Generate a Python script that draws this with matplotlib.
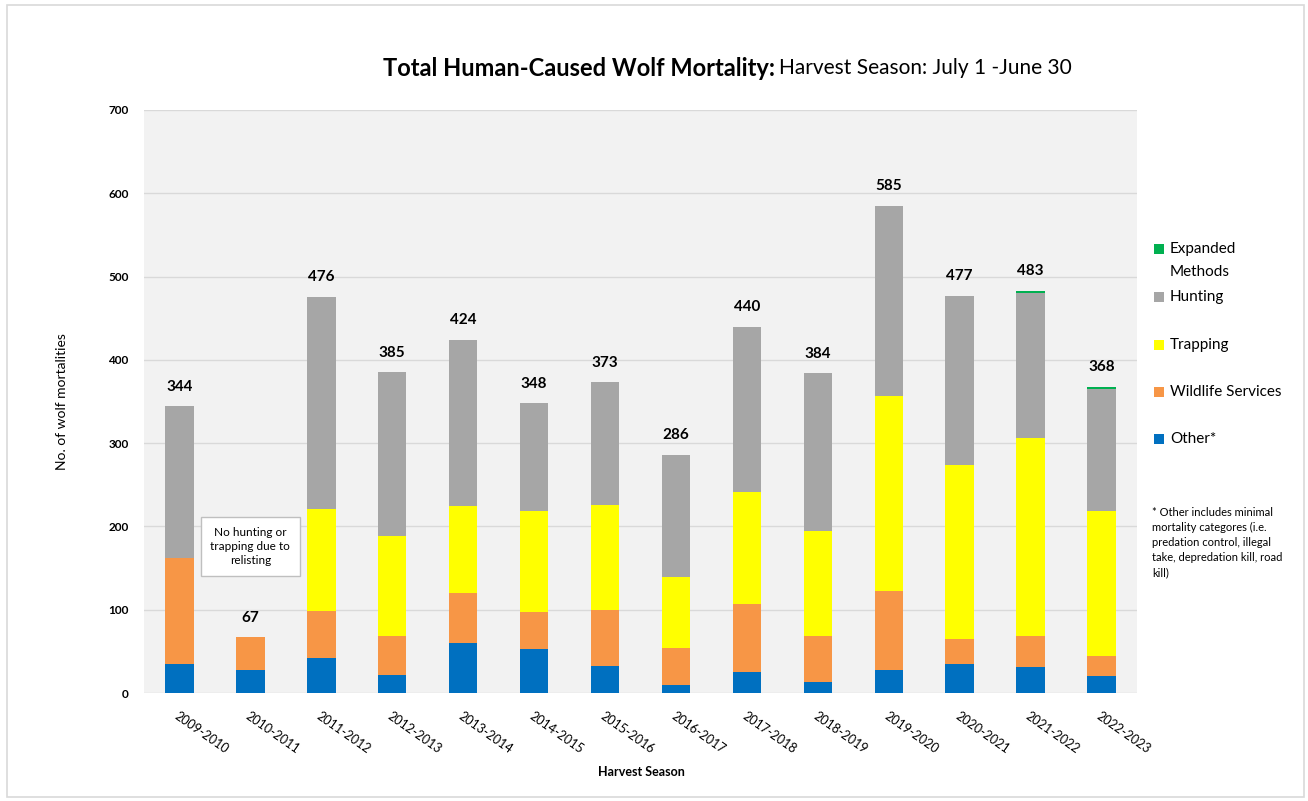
import matplotlib
matplotlib.use("Agg")
import matplotlib.pyplot as plt
from matplotlib.patches import Rectangle
import numpy as np

plt.rcParams['font.family'] = ['Lato', 'DejaVu Sans']

seasons = ["2009-2010", "2010-2011", "2011-2012", "2012-2013", "2013-2014",
           "2014-2015", "2015-2016", "2016-2017", "2017-2018", "2018-2019",
           "2019-2020", "2020-2021", "2021-2022", "2022-2023"]
other = [35, 28, 42, 22, 60, 53, 32, 10, 25, 13, 28, 35, 31, 20]
wildlife = [127, 39, 56, 46, 60, 44, 68, 44, 82, 56, 94, 30, 38, 25]
trapping = [0, 0, 123, 120, 104, 121, 126, 85, 134, 126, 235, 209, 237, 173]
hunting = [182, 0, 255, 197, 200, 130, 147, 147, 199, 189, 228, 203, 174, 147]
expanded = [0, 0, 0, 0, 0, 0, 0, 0, 0, 0, 0, 0, 3, 3]
yticks = [0, 100, 200, 300, 400, 500, 600, 700]

series = [("Other*", other, "#0070C0"),
          ("Wildlife Services", wildlife, "#F79646"),
          ("Trapping", trapping, "#FFFF00"),
          ("Hunting", hunting, "#A6A6A6"),
          ("Expanded\nMethods", expanded, "#00B050")]

W, H = 1308, 801
fig = plt.figure(figsize=(W / 100, H / 100), dpi=100)
fig.patch.set_facecolor("white")

def fx(px):
    return px / W

def fy(py):
    return 1 - py / H

ax = fig.add_axes([fx(144), fy(693), fx(1137) - fx(144), fy(110) - fy(693)])
ax.set_facecolor("#F2F2F2")
for s in ax.spines.values():
    s.set_visible(False)

x = np.arange(len(seasons))
bottom = np.zeros(len(seasons))
for name, vals, col in series:
    v = np.array(vals, dtype=float)
    ax.bar(x, v, bottom=bottom, width=0.4, color=col, zorder=3, linewidth=0)
    bottom += v
totals = bottom

for xi, t in zip(x, totals):
    ax.annotate(f"{int(t)}", (xi, t), xytext=(0, 14), textcoords="offset points",
                ha="center", va="center", fontsize=11, fontweight="bold", color="black")

ax.set_xlim(-0.5, len(seasons) - 0.5)
ax.set_ylim(0, 700)
ax.set_yticks(yticks)
ax.set_yticklabels([str(v) for v in yticks], fontsize=8.5, fontweight="bold")
ax.yaxis.grid(True, color="#D9D9D9", linewidth=1, zorder=0)
ax.set_axisbelow(True)
ax.tick_params(axis="both", length=0)
ax.tick_params(axis="y", pad=11)
ax.set_xticks(x)
ax.set_xticklabels(seasons, rotation=-35, ha="left", va="top", rotation_mode="anchor",
                   fontsize=9)
ax.tick_params(axis="x", pad=12)

fig.text(fx(62), 0.5 * (fy(110) + fy(693)), "No. of wolf mortalities", rotation=90,
         ha="center", va="center", fontsize=10)
fig.text(fx(641), fy(772), "Harvest Season", ha="center", va="center",
         fontsize=9, fontweight="bold")

# annotation box
ax.text(1.0, 176, "No hunting or\ntrapping due to\nrelisting", ha="center", va="center",
        fontsize=8.5, linespacing=1.35, zorder=5,
        bbox=dict(boxstyle="square,pad=0.8", facecolor="white", edgecolor="#BFBFBF", linewidth=1))

# title
t1 = fig.text(fx(383), fy(68), "Total Human-Caused Wolf Mortality:", ha="left", va="center",
              fontsize=17, fontweight="bold")
fig.canvas.draw()
bb = t1.get_window_extent(renderer=fig.canvas.get_renderer())
fig.text(bb.x1 / W + fx(4), fy(68), "Harvest Season: July 1 -June 30", ha="left", va="center",
         fontsize=15)

# legend
leg_items = [("Hunting", "#A6A6A6", 297),
             ("Trapping", "#FFFF00", 345),
             ("Wildlife Services", "#F79646", 392),
             ("Other*", "#0070C0", 439)]
fig.patches.append(Rectangle((fx(1154), fy(254)), fx(10), fy(0) - fy(10),
                             transform=fig.transFigure, facecolor="#00B050", edgecolor="none"))
fig.text(fx(1170), fy(249), "Expanded", ha="left", va="center", fontsize=11)
fig.text(fx(1170), fy(272), "Methods", ha="left", va="center", fontsize=11)
for lab, col, py in leg_items:
    fig.patches.append(Rectangle((fx(1154), fy(py + 5)), fx(10), fy(0) - fy(10),
                                 transform=fig.transFigure, facecolor=col, edgecolor="none"))
    fig.text(fx(1170), fy(py), lab, ha="left", va="center", fontsize=11)

fig.text(fx(1152), fy(507), "* Other includes minimal\nmortality categores (i.e.\npredation control, illegal\ntake, depredation kill, road\nkill)",
         ha="left", va="top", fontsize=8, linespacing=1.45)

# outer border
fig.patches.append(Rectangle((fx(7), fy(797)), fx(1304) - fx(7), fy(5) - fy(797),
                             transform=fig.transFigure, facecolor="none",
                             edgecolor="#D9D9D9", linewidth=1.2))

fig.savefig("out.png", dpi=100)
